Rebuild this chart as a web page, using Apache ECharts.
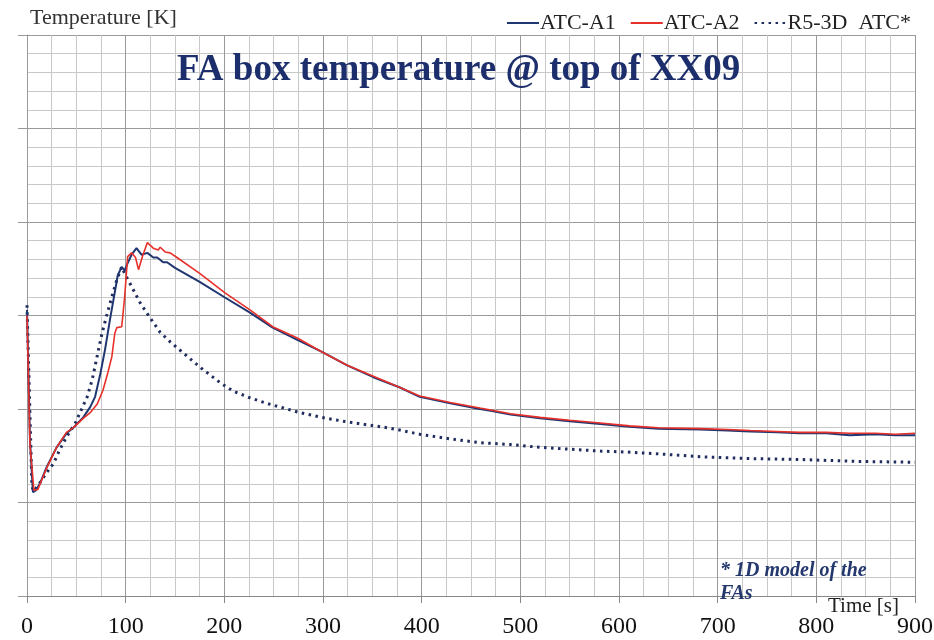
<!DOCTYPE html>
<html><head><meta charset="utf-8">
<script src="https://cdn.jsdelivr.net/npm/echarts@6/dist/echarts.min.js"></script>
<style>html,body{margin:0;padding:0;background:#fff}#c{width:934px;height:640px}</style>
</head><body><div id="c"></div>
<script>
// Time [s] / Temperature (relative scale, no y labels in the source)
const xTicks = [0,100,200,300,400,500,600,700,800,900];
const atcA1 = [[0,306],[3,167],[6,111],[9,113],[13,120],[20,138],[30,159],[40,174],[47,180],[57,191],[64,202],[69,213],[74,236],[79,263],[84,295],[89,325],[92,343],[96,352],[99,348],[102,356],[106,365],[111,372],[116,365],[122,367],[128,362],[132,362],[138,357],[142,357],[150,351],[175,336],[201,319],[226,303],[249,287],[274,274],[299,261],[324,247],[351,234],[378,223],[398,213],[429,206],[459,200],[470,198],[490,194],[520,190],[550,187],[581,184],[611,181],[640,179],[682,178],[710,177],[733,176],[760,175],[783,174],[810,174],[834,172],[860,173],[880,172],[900,172]];
const atcA2 = [[0,300],[3,162],[7,113],[11,114],[20,137],[30,159],[40,175],[47,180],[57,190],[64,196],[71,205],[77,220],[82,239],[86,256],[89,281],[91,287],[96,288],[99,320],[102,363],[106,367],[110,362],[113,349],[117,363],[122,378],[128,372],[133,370],[135,373],[140,368],[145,367],[152,362],[175,345],[201,324],[226,306],[249,288],[274,276],[299,261],[324,247],[351,235],[378,223],[398,214],[429,207],[459,201],[470,199],[490,195],[520,191],[550,188],[581,185],[611,182],[640,180],[682,179],[710,178],[733,177],[760,176],[783,175],[810,175],[834,174],[860,174],[880,173],[900,174]];
const r53d = [[0,311],[5,117],[7,112],[13,121],[20,132],[27,142],[33,156],[40,170],[49,185],[55,199],[61,213],[66,231],[71,256],[76,281],[81,301],[86,320],[91,338],[96,352],[99,345],[104,335],[115,313],[125,297],[135,282],[145,272],[155,263],[175,245],[196,228],[209,219],[226,212],[243,206],[260,201],[277,196],[299,191],[320,187],[345,183],[365,180],[380,177],[398,173],[429,168],[459,164],[490,162],[520,159],[550,157],[581,155],[608,154],[640,152],[682,149],[730,147],[783,146],[840,144],[900,143]];

const chart = echarts.init(document.getElementById('c'));
const serif = '"Liberation Serif", "Times New Roman", serif';
chart.setOption({
  animation:false,
  backgroundColor:'#fff',
  textStyle:{fontFamily:serif},
  title:{text:'FA box temperature @ top of XX09',left:172,top:47,
    textStyle:{fontFamily:serif,fontSize:37,fontWeight:'bold',color:'#1c2e6b'}},
  legend:{right:18,top:7,itemGap:14,itemWidth:32,itemHeight:10,
    itemStyle:{opacity:0},
    textStyle:{fontFamily:serif,fontSize:22,color:'#222',padding:[0,0,0,-4]},
    data:['ATC-A1','ATC-A2','R5-3D  ATC*']},
  grid:{left:27,right:19,top:35,bottom:44,containLabel:false,outerBoundsMode:'none'},
  xAxis:{type:'value',min:0,max:900,interval:100,
    axisLine:{show:true,onZero:false,lineStyle:{color:'#888',width:1}},
    axisTick:{show:true,length:7,lineStyle:{color:'#888'}},
    axisLabel:{fontFamily:serif,fontSize:24,color:'#111',margin:19,
      formatter:v=>xTicks.includes(v)?String(v):''},
    splitLine:{show:true,lineStyle:{color:'#999',width:1}},
    minorTick:{show:true,splitNumber:4,length:0},
    minorSplitLine:{show:true,lineStyle:{color:'#c8c8c8',width:1}}},
  yAxis:{type:'value',min:0,max:600,interval:100,
    name:'Temperature [K]',nameLocation:'end',nameGap:6,
    nameTextStyle:{fontFamily:serif,fontSize:22,color:'#333',align:'left',padding:[0,0,0,3]},
    axisLine:{show:true,lineStyle:{color:'#999',width:1}},
    axisTick:{show:true,length:9,lineStyle:{color:'#999'}},
    axisLabel:{show:false},
    splitLine:{show:true,lineStyle:{color:'#999',width:1}},
    minorTick:{show:true,splitNumber:5,length:0},
    minorSplitLine:{show:true,lineStyle:{color:'#c8c8c8',width:1}}},
  graphic:[
    {type:'text',right:35,top:596,z:10,
      style:{text:'Time [s]',font:'21px '+serif,fill:'#222'}},
    {type:'text',left:720,top:559,z:10,
      style:{text:'* 1D model of the\nFAs',font:'italic bold 20px '+serif,fill:'#24386e',lineHeight:23}}],
  series:[
    {name:'ATC-A1',type:'line',data:atcA1,symbol:'none',z:3,
      lineStyle:{color:'#1f3670',width:2},itemStyle:{color:'#1f3670'}},
    {name:'ATC-A2',type:'line',data:atcA2,symbol:'none',z:4,
      lineStyle:{color:'#e8302a',width:1.6},itemStyle:{color:'#e8302a'}},
    {name:'R5-3D  ATC*',type:'line',data:r53d,symbol:'none',z:2,
      lineStyle:{color:'#1f2d5e',width:3,type:[2.5,4.5]},itemStyle:{color:'#1f2d5e'}}
  ]
});
</script></body></html>
